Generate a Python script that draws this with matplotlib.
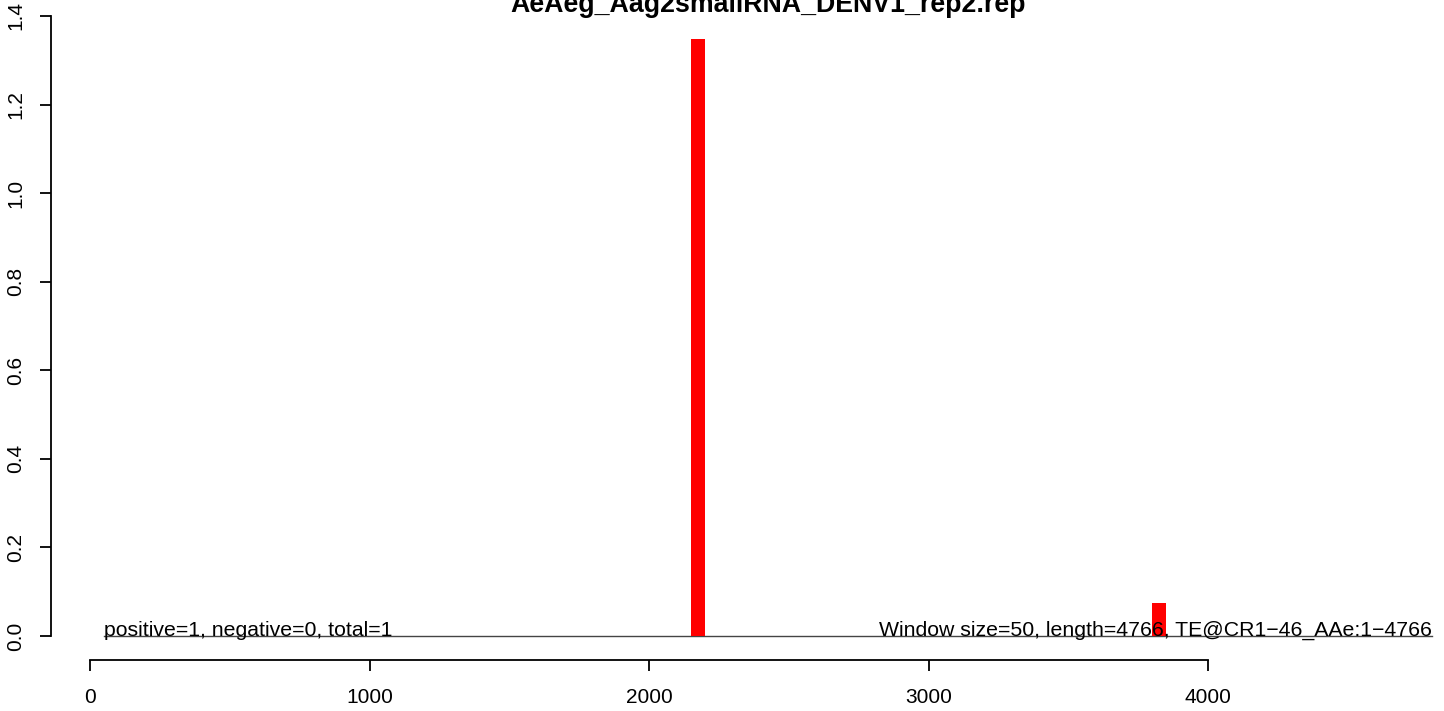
import matplotlib
matplotlib.use("Agg")
import matplotlib.pyplot as plt

plt.rcParams['font.family'] = ['Liberation Sans', 'DejaVu Sans']

title = "AeAeg_Aag2smallRNA_DENV1_rep2.rep"
bin_start = [2150, 3800]
bin_width = 50
bin_value = [1.348, 0.074]
left_note = "positive=1, negative=0, total=1"
right_note = "Window size=50, length=4766, TE@CR1\u221246_AAe:1\u22124766"
note_x = [50, 4800]
xticks = [0, 1000, 2000, 3000, 4000]
yticks = [0.0, 0.2, 0.4, 0.6, 0.8, 1.0, 1.2, 1.4]

W, H = 1444, 711
fig = plt.figure(figsize=(W / 100, H / 100), dpi=100)

# axes placed in pixel terms so the R-style layout lines up
left_px, right_px, top_px, bot_px = 51, 1440, 0, 660
ax = fig.add_axes([left_px / W, 1 - bot_px / H, (right_px - left_px) / W, (bot_px - top_px) / H])

xs = 0.2795  # px per unit
x0 = 90
ys = 620 / 1.4
y0 = 636
ax.set_xlim((left_px - x0) / xs, (right_px - x0) / xs)
ax.set_ylim((y0 - bot_px) / ys, (y0 - top_px) / ys)

ax.bar(bin_start, bin_value, width=bin_width, align='edge', color='red', linewidth=0, zorder=2)
ax.plot(note_x, [0, 0], color='#444444', linewidth=1.0, zorder=1)
ax.text(note_x[0], 0, left_note, ha='left', va='baseline', fontsize=15.3, zorder=3)
ax.text(note_x[1], 0, right_note, ha='right', va='baseline', fontsize=15.3, zorder=3)

for s in ['top', 'right']:
    ax.spines[s].set_visible(False)
ax.spines['left'].set_bounds(0, 1.4)
ax.spines['bottom'].set_bounds(0, 4000)
ax.spines['left'].set_linewidth(1.3)
ax.spines['bottom'].set_linewidth(1.3)
ax.set_xticks(xticks)
ax.set_xticklabels([str(t) for t in xticks])
ax.set_yticks(yticks)
ax.set_yticklabels([f"{t:.1f}" for t in yticks], rotation=90, va='center')
ax.tick_params(axis='both', length=7.9, width=1.3, labelsize=15)
ax.tick_params(axis='x', pad=12.5)
ax.tick_params(axis='y', pad=10.4)

fig.text(768 / W, 1 - 5 / H, title, ha='center', va='center', fontsize=19.3, fontweight='bold')

fig.savefig("out.png", dpi=100)
